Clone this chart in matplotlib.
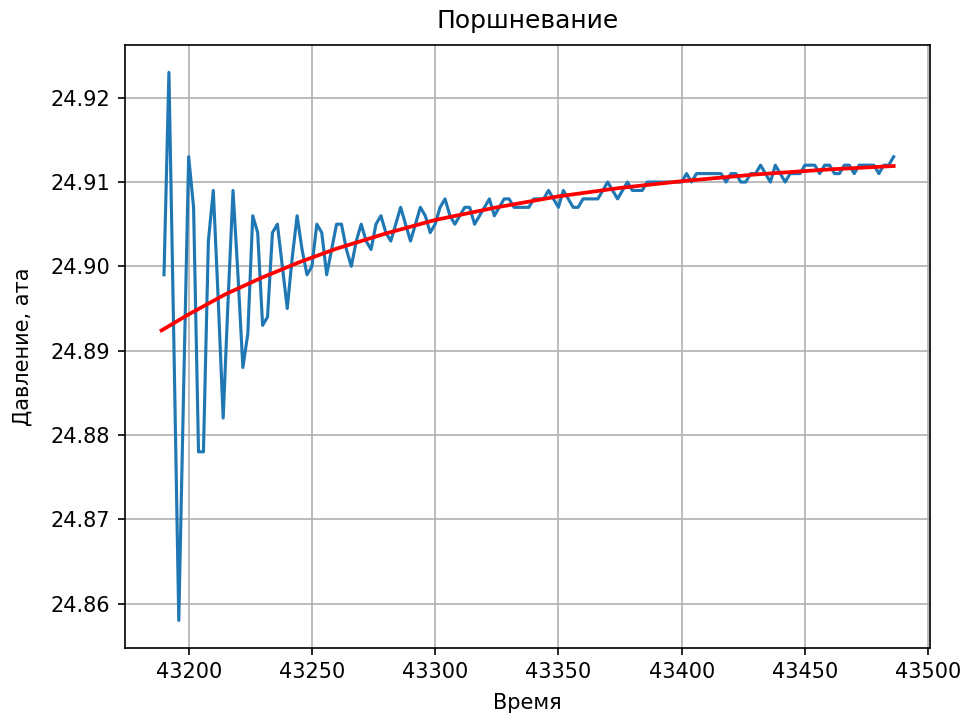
import matplotlib
matplotlib.use("Agg")
import matplotlib.pyplot as plt
import numpy as np

# Measured pressure (blue), sampled every 2 s starting at 43190
t_start = 43190
t_step = 2
pressure = [
    24.899, 24.923, 24.891, 24.858, 24.886, 24.913, 24.907, 24.878, 24.878, 24.903,
    24.909, 24.896, 24.882, 24.896, 24.909, 24.899, 24.888, 24.892, 24.906, 24.904,
    24.893, 24.894, 24.904, 24.905, 24.900, 24.895, 24.901, 24.906, 24.902, 24.899,
    24.900, 24.905, 24.904, 24.899, 24.902, 24.905, 24.905, 24.902, 24.900, 24.903,
    24.905, 24.903, 24.902, 24.905, 24.906, 24.904, 24.903, 24.905, 24.907, 24.905,
    24.903, 24.905, 24.907, 24.906, 24.904, 24.905, 24.907, 24.908, 24.906, 24.905,
    24.906, 24.907, 24.907, 24.905, 24.906, 24.907, 24.908, 24.906, 24.907, 24.908,
    24.908, 24.907, 24.907, 24.907, 24.907, 24.908, 24.908, 24.908, 24.909, 24.908,
    24.907, 24.909, 24.908, 24.907, 24.907, 24.908, 24.908, 24.908, 24.908, 24.909,
    24.910, 24.909, 24.908, 24.909, 24.910, 24.909, 24.909, 24.909, 24.910, 24.910,
    24.910, 24.910, 24.910, 24.910, 24.910, 24.910, 24.911, 24.910, 24.911, 24.911,
    24.911, 24.911, 24.911, 24.911, 24.910, 24.911, 24.911, 24.910, 24.910, 24.911,
    24.911, 24.912, 24.911, 24.910, 24.912, 24.911, 24.910, 24.911, 24.911, 24.911,
    24.912, 24.912, 24.912, 24.911, 24.912, 24.912, 24.911, 24.911, 24.912, 24.912,
    24.911, 24.912, 24.912, 24.912, 24.912, 24.911, 24.912, 24.912, 24.913,
]
time = [t_start + t_step * i for i in range(len(pressure))]

# Fitted curve (red)
fit_time = [43189, 43200, 43215, 43230, 43245, 43260, 43280, 43300, 43325,
            43350, 43375, 43400, 43430, 43460, 43486]
fit_values = [24.8924, 24.8943, 24.8967, 24.8987, 24.9005, 24.9021, 24.9039,
              24.9055, 24.9070, 24.9083, 24.9093, 24.9101, 24.9109, 24.9115, 24.9119]

fig = plt.figure(figsize=(961 / 150, 715 / 150), dpi=150)
ax = fig.add_axes([0.130, 0.094, 0.838, 0.843])
ax.plot(time, pressure, color="#1f77b4", linewidth=1.5)
ax.plot(fit_time, fit_values, color="red", linewidth=1.8)
ax.grid(True)
ax.set_title("Поршневание", pad=8)
ax.set_xlabel("Время", labelpad=5)
ax.set_ylabel("Давление, ата", labelpad=8.5)
ax.ticklabel_format(useOffset=False)
ax.set_xticks([43200, 43250, 43300, 43350, 43400, 43450, 43500])
ax.set_yticks([24.86, 24.87, 24.88, 24.89, 24.90, 24.91, 24.92])
fig.savefig("out.png", dpi=150)
